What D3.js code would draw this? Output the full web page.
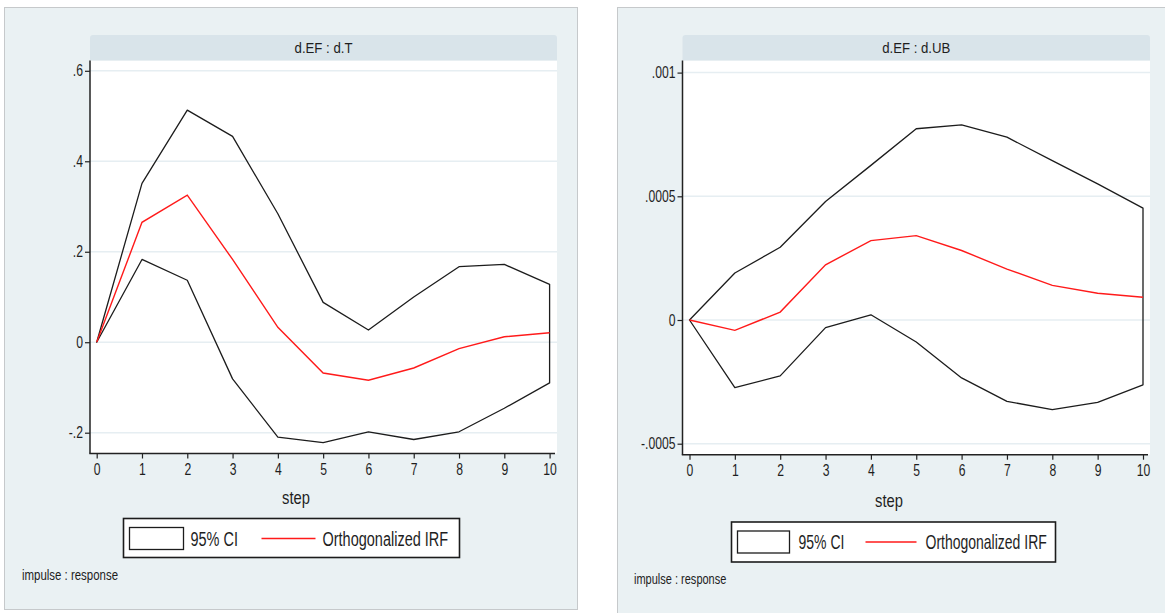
<!DOCTYPE html>
<html lang="en">
<head>
    <title>IRF d.EF</title>
    <script src="https://d3js.org/d3.v7.min.js"></script>
    <style>
        body { margin: 0; background: #fff; }
        text { font-family: "Liberation Sans", Arial, sans-serif; fill: #1e1e1e; }
        .grid { stroke: #e6eef2; stroke-width: 1.5; }
        .tick line { stroke: #222; stroke-width: 1.2; }
    </style>
</head>
<body>

<script>
    // step axis
    const steps = [0, 1, 2, 3, 4, 5, 6, 7, 8, 9, 10];

    // d.EF : d.T
    const tIrf   = [0, 0.265, 0.325, 0.183, 0.033, -0.068, -0.084, -0.057, -0.014, 0.012, 0.021];
    const tUpper = [0, 0.351, 0.513, 0.455, 0.284, 0.088, 0.027, 0.100, 0.167, 0.172, 0.128];
    const tLower = [0, 0.183, 0.137, -0.081, -0.210, -0.222, -0.198, -0.215, -0.198, -0.146, -0.090];
    const tTicks = [-0.2, 0, 0.2, 0.4, 0.6];
    const tTickLabels = ["-.2", "0", ".2", ".4", ".6"];

    // d.EF : d.UB
    const ubIrf   = [0, -0.000042, 0.000032, 0.000223, 0.000321, 0.000341, 0.000281, 0.000206, 0.000140, 0.000108, 0.000092];
    const ubUpper = [0, 0.000190, 0.000294, 0.000479, 0.000625, 0.000773, 0.000789, 0.000739, 0.000644, 0.000550, 0.000452];
    const ubLower = [0, -0.000273, -0.000226, -0.000031, 0.000021, -0.000089, -0.000234, -0.000329, -0.000362, -0.000333, -0.000262];
    const ubTicks = [-0.0005, 0, 0.0005, 0.001];
    const ubTickLabels = ["-.0005", "0", ".0005", ".001"];

    const legendLabels = ["95% CI", "Orthogonalized IRF"];
    const noteText = "impulse : response";

    const svg = d3.select("body").append("svg")
        .attr("width", 1165).attr("height", 613);

    // Stata's font here is tall and narrow, so squeeze text horizontally
    function label(g, x, y, str, size, sx, anchor) {
        return g.append("text")
            .attr("transform", `translate(${x},${y}) scale(${sx},1)`)
            .attr("text-anchor", anchor || "start")
            .attr("font-size", size)
            .text(str);
    }

    function drawPanel(p) {
        const g = svg.append("g");

        // outer graph region
        g.append("rect")
            .attr("x", p.box[0] + 0.5).attr("y", p.box[1] + 0.5)
            .attr("width", p.box[2]).attr("height", p.box[3])
            .attr("fill", "#eaf1f3").attr("stroke", "#c6c9cb");

        // title strip
        g.append("rect")
            .attr("x", p.plot[0]).attr("y", 35)
            .attr("width", p.plot[1] - p.plot[0]).attr("height", 30)
            .attr("rx", 3)
            .attr("fill", "#d9e4ea");
        label(g, (p.plot[0] + p.plot[1]) / 2, 53, p.title, 15, 0.88, "middle");

        // plot region
        g.append("rect")
            .attr("x", p.plot[0]).attr("y", p.plot[2])
            .attr("width", p.plot[1] - p.plot[0]).attr("height", p.plot[3] - p.plot[2])
            .attr("fill", "#fff");

        const x = d3.scaleLinear().domain([0, 10]).range(p.xr);
        const y = d3.scaleLinear().domain([p.ticks[0], p.ticks[p.ticks.length - 1]]).range(p.yr);

        g.append("g").selectAll("line")
            .data(p.ticks).enter()
            .append("line").attr("class", "grid")
            .attr("x1", p.plot[0]).attr("x2", p.plot[1])
            .attr("y1", d => y(d)).attr("y2", d => y(d));

        // CI outline (upper out, lower back)
        const ci = steps.map((s, i) => [s, p.upper[i]])
            .concat(steps.map((s, i) => [s, p.lower[i]]).reverse());
        g.append("path")
            .attr("d", d3.line().x(d => x(d[0])).y(d => y(d[1]))(ci) + "Z")
            .attr("fill", "none").attr("stroke", "#1c1c1c").attr("stroke-width", 1.3)
            .attr("stroke-linejoin", "round");

        g.append("path")
            .datum(p.irf)
            .attr("d", d3.line().x((d, i) => x(steps[i])).y(d => y(d)))
            .attr("fill", "none").attr("stroke", "#ff1a1a").attr("stroke-width", 1.4);

        // axes
        const sxTick = 0.76;
        const yAxis = d3.axisLeft(y).tickValues(p.ticks)
            .tickFormat((d, i) => p.labels[i]).tickSize(5).tickPadding(2);
        const ya = g.append("g").attr("transform", `translate(${p.plot[0]},0)`).call(yAxis);
        ya.select(".domain").remove();
        ya.selectAll("text")
            .attr("font-size", 16).attr("font-family", null).attr("fill", null)
            .attr("x", -7 / sxTick)
            .attr("transform", `scale(${sxTick},1)`);

        const xAxis = d3.axisBottom(x).tickValues(steps).tickSize(5).tickPadding(5);
        const xa = g.append("g").attr("transform", `translate(0,${p.plot[3]})`).call(xAxis);
        xa.select(".domain").remove();
        xa.selectAll("text")
            .attr("font-size", 16).attr("font-family", null).attr("fill", null)
            .attr("transform", `scale(${sxTick},1)`);

        g.append("line")
            .attr("x1", p.plot[0]).attr("x2", p.plot[0])
            .attr("y1", p.plot[2]).attr("y2", p.plot[3])
            .attr("stroke", "#222").attr("stroke-width", 1.5);
        g.append("line")
            .attr("x1", p.plot[0] - 0.7).attr("x2", p.plot[1] - 2)
            .attr("y1", p.plot[3]).attr("y2", p.plot[3])
            .attr("stroke", "#222").attr("stroke-width", 1.5);

        label(g, x(4.4), p.stepY, "step", 18, 0.82, "middle");

        // legend
        const L = p.legend;
        g.append("rect")
            .attr("x", L[0]).attr("y", L[1]).attr("width", L[2]).attr("height", L[3])
            .attr("fill", "#fff").attr("stroke", "#1c1c1c").attr("stroke-width", 1.6);
        g.append("rect")
            .attr("x", L[0] + 6).attr("y", L[1] + 9).attr("width", p.keyW).attr("height", 22)
            .attr("fill", "#fff").attr("stroke", "#1c1c1c").attr("stroke-width", 1.3);
        label(g, L[0] + p.legX[0], L[1] + 27, legendLabels[0], 20, p.legSx);
        g.append("line")
            .attr("x1", L[0] + p.legX[1]).attr("x2", L[0] + p.legX[2])
            .attr("y1", L[1] + 20).attr("y2", L[1] + 20)
            .attr("stroke", "#ff1a1a").attr("stroke-width", 1.4);
        label(g, L[0] + p.legX[3], L[1] + 27, legendLabels[1], 20, p.legSx);

        label(g, p.note[0], p.note[1], noteText, 14.5, p.noteSx);
    }

    drawPanel({
        title: "d.EF : d.T",
        box: [4, 7, 573, 602],
        plot: [90, 557, 60.6, 453.5],
        xr: [96.7, 549.6],
        yr: [432.7, 70.8],
        ticks: tTicks, labels: tTickLabels,
        irf: tIrf, upper: tUpper, lower: tLower,
        stepY: 504,
        legend: [123.5, 518.5, 336, 39],
        keyW: 54,
        legX: [67, 138, 192, 199],
        legSx: 0.725,
        note: [22, 580],
        noteSx: 0.79
    });

    drawPanel({
        title: "d.EF : d.UB",
        box: [617, 7, 560, 620],
        plot: [682.5, 1150, 60.6, 454.7],
        xr: [689.5, 1143],
        yr: [443.7, 72.6],
        ticks: ubTicks, labels: ubTickLabels,
        irf: ubIrf, upper: ubUpper, lower: ubLower,
        stepY: 507,
        legend: [731.5, 522, 324, 40],
        keyW: 52,
        legX: [67, 134, 185, 194],
        legSx: 0.7,
        note: [634, 584],
        noteSx: 0.76
    });
</script>

</body>
</html>
